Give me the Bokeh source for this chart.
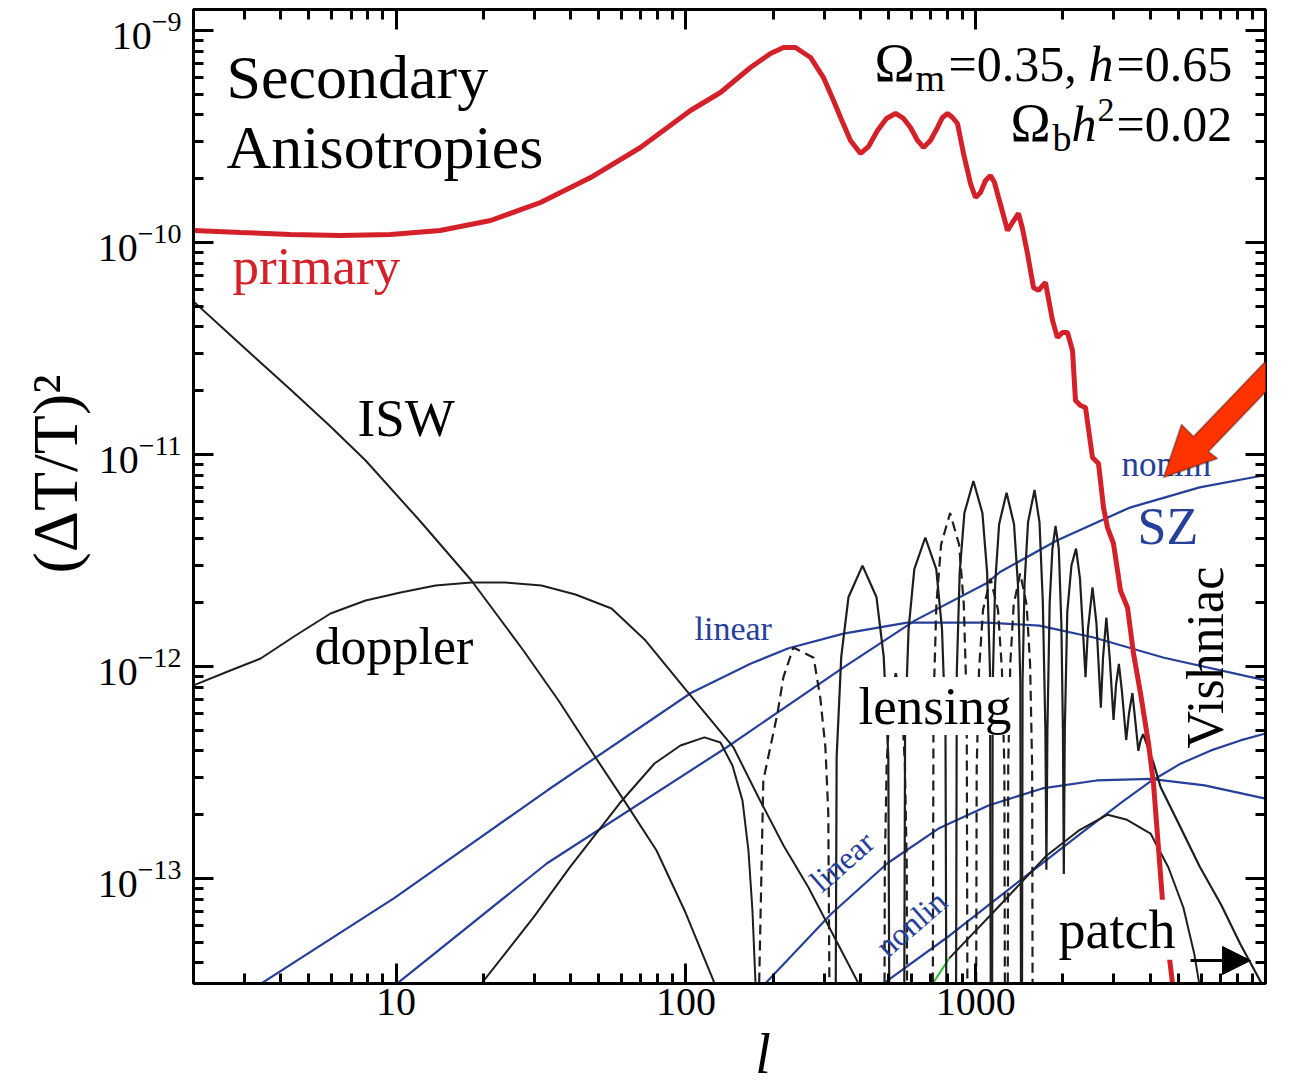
import math
from bokeh.plotting import figure
from bokeh.models import (Range1d, LogAxis, FixedTicker, LogTickFormatter, CustomJSTickFormatter,
                          BasicTickFormatter, Label, PolyAnnotation, Arrow, NormalHead)
from bokeh.embed import file_html
from bokeh.resources import INLINE

# ---------------- data ----------------
x_major = [10, 100, 1000]
x_minor = [3, 4, 5, 6, 7, 8, 9, 20, 30, 40, 50, 60, 70, 80, 90,
           200, 300, 400, 500, 600, 700, 800, 900, 2000, 3000, 4000, 5000, 6000, 7000, 8000, 9000]
y_major = [1e-13, 1e-12, 1e-11, 1e-10, 1e-9]
y_minor = [k * 10.0 ** e for e in (-14, -13, -12, -11, -10) for k in range(2, 10)]

primary_l = [2, 2.91, 4.32, 6.43, 9.57, 14.2, 21.2, 31.5, 46.9, 69.7, 103.7, 131.6, 167.1, 195.9,
             217.2, 238.9, 269.2, 298.4, 323.1, 341.7, 369.8, 400.5, 426.8, 458.4, 492.3, 528.9,
             563.5, 595.7, 629.9, 660.6, 698.2, 738.3, 768.3, 799.4, 831.8, 865.4, 907.7, 959.7,
             998.4, 1039, 1081, 1125, 1161, 1199, 1247, 1288, 1340, 1405, 1450, 1509, 1583, 1647,
             1741, 1841, 1915, 1993, 2073, 2158, 2210, 2299, 2393, 2529, 2653, 2761, 2850, 2989,
             3160, 3341, 3504, 3705, 3948, 4107, 4412, 4777, 4893]
primary_v = [1.139e-10, 1.115e-10, 1.091e-10, 1.079e-10, 1.091e-10, 1.139e-10, 1.27e-10,
             1.544e-10, 2.025e-10, 2.806e-10, 4.194e-10, 5.098e-10, 6.69e-10, 7.79e-10, 8.31e-10,
             8.31e-10, 7.46e-10, 6.0e-10, 4.676e-10, 3.887e-10, 3.028e-10, 2.63e-10, 2.836e-10,
             3.376e-10, 3.845e-10, 4.06e-10, 3.845e-10, 3.487e-10, 3.028e-10, 2.806e-10,
             3.028e-10, 3.487e-10, 3.887e-10, 4.06e-10, 3.887e-10, 3.641e-10, 2.63e-10,
             1.897e-10, 1.63e-10, 1.721e-10, 1.96e-10, 2.07e-10, 1.919e-10, 1.63e-10, 1.341e-10,
             1.139e-10, 1.243e-10, 1.37e-10, 1.164e-10, 8.87e-11, 6.13e-11, 5.94e-11, 6.48e-11,
             4.29e-11, 3.56e-11, 3.76e-11, 3.76e-11, 3.095e-11, 1.798e-11, 1.702e-11, 1.666e-11,
             9.68e-12, 9.07e-12, 5.62e-12, 4.52e-12, 3.8e-12, 2.28e-12, 1.897e-12, 1.151e-12,
             7.46e-13, 4.33e-13, 2.806e-13, 7.87e-14, 3.197e-14, 2.52e-14]

isw_l = [2, 2.91, 4.32, 5.94, 7.85, 12.14, 18.2, 27.5, 36.35, 48.8, 61.9, 79.2, 99.7, 124.5, 131.6]
isw_v = [5.27e-11, 3.30e-11, 2.025e-11, 1.355e-11, 9.37e-12, 4.83e-12, 2.545e-12, 1.19e-12,
         6.91e-13, 3.72e-13, 2.28e-13, 1.355e-13, 6.91e-14, 3.30e-14, 2.66e-14]

doppler_l = [2, 2.68, 3.41, 4.50, 5.94, 7.85, 10.36, 13.68, 18.2, 23.85, 31.75, 41.6, 55.4, 72.6,
             100.5, 146, 178.1, 217.2, 264.9, 323.1, 394.2, 433.6]
doppler_v = [8.14e-13, 9.57e-13, 1.091e-12, 1.40e-12, 1.778e-12, 2.048e-12, 2.234e-12, 2.41e-12,
             2.49e-12, 2.49e-12, 2.41e-12, 2.186e-12, 1.878e-12, 1.326e-12, 7.7e-13, 4.15e-13,
             2.41e-13, 1.43e-13, 9.07e-14, 5.38e-14, 3.197e-14, 2.5e-14]

hump_l = [18.5, 19.71, 29.8, 39.7, 59.0, 77.9, 95.8, 115.9, 131.6, 144.8, 156.8, 164.4, 169.7,
          173.9, 175.3]
hump_v = [2.8e-14, 3.197e-14, 6.55e-14, 1.126e-13, 2.258e-13, 3.487e-13, 4.24e-13, 4.63e-13,
          4.38e-13, 3.41e-13, 2.33e-13, 1.355e-13, 7.06e-14, 3.197e-14, 2.52e-14]

sz_lin_l = [3.2, 3.43, 9.88, 33.2, 104, 167, 226, 350, 580, 1090, 1658, 2554, 4466, 10000]
sz_lin_v = [2.9e-14, 3.2e-14, 8.1e-14, 2.6e-13, 7.5e-13, 1.03e-12, 1.22e-12, 1.43e-12, 1.61e-12,
            1.61e-12, 1.56e-12, 1.37e-12, 1.1e-12, 8.6e-13]

sz_nl_l = [9.5, 10.1, 33.2, 138, 350, 618, 1090, 1218, 1906, 3380, 5926, 10000]
sz_nl_v = [2.9e-14, 3.2e-14, 1.18e-13, 4.15e-13, 9.9e-13, 1.65e-12, 2.47e-12, 2.8e-12, 3.93e-12,
           5.6e-12, 7.0e-12, 8.0e-12]

vish_lin_l = [180, 188, 317, 496, 744, 1107, 1698, 2614, 4012, 6166, 10000]
vish_lin_v = [2.9e-14, 3.2e-14, 6.8e-14, 1.18e-13, 1.72e-13, 2.21e-13, 2.66e-13, 2.9e-13, 2.95e-13,
              2.75e-13, 2.38e-13]

vish_nl_l = [470, 496, 816, 1424, 2302, 3178, 4012, 5112, 6486, 8192, 10000]
vish_nl_v = [3.0e-14, 3.3e-14, 5.4e-14, 9.8e-14, 1.63e-13, 2.28e-13, 2.87e-13, 3.49e-13, 4.02e-13,
             4.48e-13, 4.83e-13]

patch_l = [810, 1170, 1754, 2264, 2851, 3306, 4012, 4620, 5207, 5680, 5905, 6050]
patch_v = [4.2e-14, 7.1e-14, 1.28e-13, 1.68e-13, 2.0e-13, 1.9e-13, 1.63e-13, 1.13e-13, 7.3e-14,
           4.4e-14, 3.2e-14, 2.6e-14]
patch_green_l = [690, 810]
patch_green_v = [3.0e-14, 4.2e-14]

# lensing: negative lobes (dashed) and positive lobes (solid)
lens_neg_l = [
    [170, 185, 207, 217, 235, 276, 291, 303, 310, 318],
    [481.8, 485.8, 493, 505.2, 530, 556, 569.8, 578.2, 583],
    [707.1, 715.2, 731.8, 759.8, 816, 876.4, 909.8, 931.1, 941.7],
    [998.2, 1008, 1027, 1060, 1125, 1194, 1232, 1256, 1268],
    [1284, 1295, 1316, 1352, 1424, 1499, 1541, 1566, 1579],
]
lens_neg_v = [
    [1e-15, 2.9e-13, 6.0e-13, 8.9e-13, 1.23e-12, 1.1e-12, 7.1e-13, 4.15e-13, 2.03e-13, 1e-15],
    [1e-15, 1.16e-13, 3.44e-13, 6.6e-13, 9.3e-13, 6.6e-13, 3.44e-13, 1.16e-13, 1e-15],
    [1e-15, 6.6e-13, 1.96e-12, 3.76e-12, 5.3e-12, 3.76e-12, 1.96e-12, 6.6e-13, 1e-15],
    [1e-15, 3.3e-13, 9.6e-13, 1.85e-12, 2.6e-12, 1.85e-12, 9.6e-13, 3.3e-13, 1e-15],
    [1e-15, 3.4e-13, 1.02e-12, 1.95e-12, 2.75e-12, 1.95e-12, 1.02e-12, 3.4e-13, 1e-15],
]
lens_pos_l = [
    [325.7, 331.3, 343.6, 363.9, 406.8, 454.8, 481.6, 499.5, 508.1],
    [562.6, 570.7, 586.7, 614.1, 670, 731, 765.1, 786.6, 797.9],
    [851, 860.6, 880.7, 914.3, 982, 1054.7, 1095, 1120.5, 1133.2],
    [1134, 1145, 1167, 1204.5, 1278, 1356, 1399, 1426, 1440],
    [1439, 1451, 1475, 1516, 1596, 1660, 1705, 1740, 1754, 1768, 1800, 1840, 1886, 1935, 1975,
     2000, 2014, 2030, 2070, 2140, 2220, 2290, 2350, 2393, 2440, 2530, 2610, 2703, 2750, 2824,
     2900, 2990, 3050, 3120, 3200, 3306, 3380, 3474, 3560, 3642, 3710, 3782, 4110, 4344, 5112,
     5926, 7036, 8192, 9572, 10000],
]
lens_pos_v = [
    [1e-15, 3.74e-13, 1.11e-12, 2.12e-12, 2.99e-12, 2.12e-12, 1.11e-12, 3.74e-13, 1e-15],
    [1e-15, 5.1e-13, 1.5e-12, 2.88e-12, 4.06e-12, 2.88e-12, 1.5e-12, 5.1e-13, 1e-15],
    [1e-15, 9.4e-13, 2.78e-12, 5.3e-12, 7.5e-12, 5.3e-12, 2.78e-12, 9.4e-13, 1e-15],
    [1e-15, 8.3e-13, 2.44e-12, 4.69e-12, 6.6e-12, 4.69e-12, 2.44e-12, 8.3e-13, 1e-15],
    [1e-15, 8.5e-13, 2.5e-12, 4.8e-12, 6.8e-12, 4.8e-12, 2.0e-12, 5e-13, 1.1e-13, 5e-13, 2.0e-12,
     3.6e-12, 4.6e-12, 3.6e-12, 1.6e-12, 5e-13, 1.05e-13, 5e-13, 1.8e-12, 3.0e-12, 3.6e-12,
     2.6e-12, 1.4e-12, 8.9e-13, 1.5e-12, 2.36e-12, 1.6e-12, 6.4e-13, 1.1e-12, 1.7e-12, 1.1e-12,
     5.6e-13, 8.2e-13, 1.03e-12, 7.5e-13, 4.5e-13, 6.0e-13, 7.5e-13, 5.4e-13, 4.0e-13, 4.5e-13,
     4.8e-13, 3.5e-13, 2.7e-13, 1.72e-13, 1.14e-13, 7.5e-14, 4.9e-14, 3.3e-14, 3.0e-14],
]

# ---------------- layout ----------------
X0, X1 = 2.0, 10000.0
Y0, Y1 = 3.197e-14, 1.256e-9
W, H = 1305, 1088
L, R, T, B = 193, 40, 9, 105
FW, FH = W - L - R, H - T - B

def px2l(px):
    return X0 * (X1 / X0) ** ((px - L) / FW)

def py2v(py):
    return Y1 * (Y0 / Y1) ** ((py - T) / FH)

FONT = "Liberation Serif"
RED = "#d42029"
BLUE = "#26409a"
INK = "#1e1e1e"

p = figure(width=W, height=H, x_axis_type="log", y_axis_type="log",
           x_range=Range1d(X0, X1), y_range=Range1d(Y0, Y1),
           output_backend="svg", toolbar_location=None,
           min_border_left=L, min_border_right=R, min_border_top=T, min_border_bottom=B)
p.grid.visible = False
p.outline_line_color = "black"
p.outline_line_width = 3
p.background_fill_color = "white"
p.border_fill_color = "white"

xt = FixedTicker(ticks=x_major, minor_ticks=x_minor)
yt = FixedTicker(ticks=y_major, minor_ticks=y_minor)

def style_axis(ax):
    ax.axis_line_width = 3
    ax.axis_line_color = "black"
    ax.major_tick_in = 20
    ax.major_tick_out = 0
    ax.minor_tick_in = 10
    ax.minor_tick_out = 0
    ax.major_tick_line_width = 3
    ax.minor_tick_line_width = 3
    ax.major_label_text_font = FONT
    ax.major_label_text_font_size = "40px"
    ax.major_label_text_color = "black"
    ax.axis_label_text_font = FONT
    ax.axis_label_text_color = "black"

xa = p.xaxis[0]
xa.ticker = xt
xa.formatter = BasicTickFormatter()
style_axis(xa)
xa.major_label_standoff = 5
xa.axis_label = "\u2003\u2009l"
xa.axis_label_text_font_size = "56px"
xa.axis_label_text_font_style = "italic"
xa.axis_label_standoff = 5

ya = p.yaxis[0]
ya.ticker = yt
ya.formatter = LogTickFormatter()
style_axis(ya)
ya.major_label_standoff = 12
ya.axis_label = "\u2002\u2009(\u0394T/T)\u00b2"
ya.axis_label_text_font_size = "64px"
ya.axis_label_text_font_style = "normal"
ya.axis_label_standoff = 4

for loc, tk in (("above", xt), ("right", yt)):
    ax = LogAxis(ticker=tk, formatter=CustomJSTickFormatter(code="return ''"))
    style_axis(ax)
    ax.major_label_text_font_size = "1px"
    ax.major_label_standoff = 0
    p.add_layout(ax, loc)

# ---------------- curves ----------------
for xs, ys in ((sz_lin_l, sz_lin_v), (sz_nl_l, sz_nl_v), (vish_lin_l, vish_lin_v), (vish_nl_l, vish_nl_v)):
    p.line(xs, ys, line_color=BLUE, line_width=2.2)

for xs, ys in ((isw_l, isw_v), (doppler_l, doppler_v), (hump_l, hump_v), (patch_l, patch_v)):
    p.line(xs, ys, line_color=INK, line_width=2)
p.line(patch_green_l, patch_green_v, line_color="#33bb33", line_width=2)

p.multi_line(lens_neg_l, lens_neg_v, line_color=INK, line_width=2.2, line_dash="10 6")
p.multi_line(lens_pos_l, lens_pos_v, line_color=INK, line_width=2.2)

p.line(primary_l, primary_v, line_color=RED, line_width=5)

# ---------------- texts ----------------
def lab(text, px, py, size, color="black", style="normal", angle=0.0, bg=None):
    # (px, py) = left end of the text baseline, in picture pixels
    sh = 0.33 * size
    mx = px - sh * math.sin(angle)
    my = py - sh * math.cos(angle)
    kw = dict(x=px2l(mx), y=py2v(my), text=text, text_font=FONT,
              text_font_size=f"{size}px", text_color=color, text_font_style=style,
              text_align="left", text_baseline="middle", angle=angle)
    if bg is not None:
        kw["background_fill_color"] = bg
        kw["background_fill_alpha"] = 1.0
    p.add_layout(Label(**kw))

lab("Secondary", 226, 97, 62)
lab("Anisotropies", 226, 167, 62)
lab("primary", 232, 283, 53, color=RED)
lab("ISW", 357, 435, 53)
lab("doppler", 314, 663, 52)
lab("lensing", 858, 723, 53, bg="white")
lab("patch", 1058, 947, 54, bg="white")
lab("SZ", 1137, 543, 52, color=BLUE)
lab("Vishniac", 1222, 748, 52, angle=math.pi / 2)
lab("linear", 694, 639, 34, color=BLUE)
lab("nonlin", 1121, 476, 35, color=BLUE)
lab("linear", 821, 893, 32, color=BLUE, angle=0.72)
lab("nonlin", 887, 958, 32, color=BLUE, angle=0.72)

# cosmological parameters
lab("\u03a9", 874, 80, 54)
lab("m", 915, 90, 38)
lab("=0.35,", 948, 80, 50)
lab("h", 1088, 80, 50, style="italic")
lab("=0.65", 1116, 80, 50)
lab("\u03a9", 1010, 140, 54)
lab("b", 1052, 150, 38)
lab("h", 1071, 140, 50, style="italic")
lab("2", 1097, 121, 34)
lab("=0.02", 1116, 140, 50)

# small arrow under "patch"
p.add_layout(Arrow(end=NormalHead(size=28, fill_color="black", line_color="black"),
                   x_start=px2l(1190), y_start=py2v(960), x_end=px2l(1250), y_end=py2v(960),
                   line_color="black", line_width=3))

# big red annotation arrow
arrow_px = [(1163, 477), (1181, 424), (1193, 436), (1330, 293), (1345, 308), (1208, 451), (1217, 458)]
p.add_layout(PolyAnnotation(xs=[px2l(a) for a, b in arrow_px], ys=[py2v(b) for a, b in arrow_px],
                            fill_color="#ff3300", fill_alpha=1.0, line_color="black", line_width=2))

open("out.html", "w").write(file_html(p, INLINE))
